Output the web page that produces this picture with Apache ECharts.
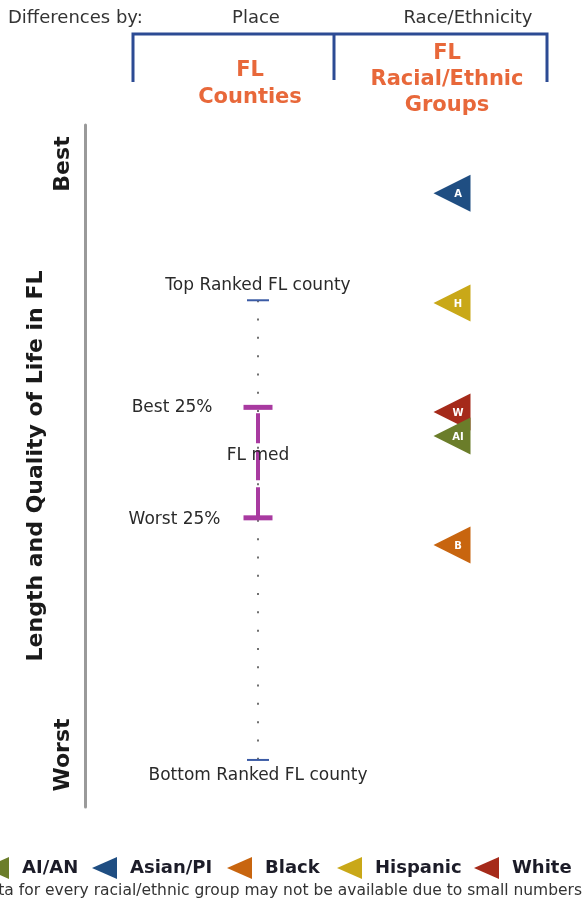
<!DOCTYPE html>
<html>
<head>
<meta charset="utf-8">
<script src="https://cdn.jsdelivr.net/npm/echarts@6/dist/echarts.min.js"></script>
<style>
html,body{margin:0;padding:0;background:#fff;}
#chart{width:584px;height:911px;}
</style>
</head>
<body>
<div id="chart"></div>
<script>
// ---- data (rank position on a 0 = best ... 100 = worst scale) ----
const columns = ['FL Counties', 'FL Racial/Ethnic Groups'];
const countyLabels = ['Top Ranked FL county', 'Best 25%', 'FL med', 'Worst 25%', 'Bottom Ranked FL county'];
const countyValues = [25.7, 41.4, 48.4, 57.6, 93.1];
const groups = ['AI/AN', 'Asian/PI', 'Black', 'Hispanic', 'White'];
const groupLetters = ['AI', 'A', 'B', 'H', 'W'];
const groupValues = [45.6, 10.0, 61.6, 26.1, 42.1];
const groupColors = ['#6b7d2a', '#1f4e82', '#c8650f', '#c9a818', '#a52a1a'];
const axisEnds = ['Best', 'Worst'];
const axisTitle = 'Length and Quality of Life in FL';

const FONT = 'DejaVu Sans';
const PURPLE = '#a83aa0';
const TRI = 'path://M0,18 L36,0 L36,36 Z';
const LEG_TRI = 'path://M0,11 L25,0 L25,22 Z';

const chart = echarts.init(document.getElementById('chart'), null, {renderer: 'canvas'});

const groupSeries = groups.map((g, i) => ({
  name: g,
  type: 'scatter',
  z: g === 'AI/AN' ? 5 : 3,
  symbol: TRI,
  symbolSize: [37, 37],
  itemStyle: {color: groupColors[i], opacity: 1},
  label: {
    show: true,
    position: 'inside',
    offset: [6, 1],
    formatter: groupLetters[i],
    color: '#fff',
    fontFamily: FONT,
    fontWeight: 'bold',
    fontSize: 10
  },
  data: [[columns[1], groupValues[i]]]
}));

const legendLefts = [-16, 92, 227, 337, 474];
const legends = groups.map((g, i) => ({
  data: [{name: g, icon: LEG_TRI}],
  left: legendLefts[i],
  top: 857,
  padding: 0,
  itemWidth: 25,
  itemHeight: 22,
  selectedMode: false,
  textStyle: {fontFamily: FONT, fontWeight: 'bold', fontSize: 18, color: '#1c1c28', padding: [0, 0, 0, 8]}
}));

const txt = {fontFamily: FONT, fontSize: 17, color: '#2a2a2a'};

const option = {
  animation: false,
  backgroundColor: '#fff',
  legend: legends,
  grid: {left: 161, width: 388, top: 125, height: 682},
  xAxis: {
    type: 'category',
    data: columns,
    show: false
  },
  yAxis: {
    type: 'value',
    inverse: true,
    min: 0,
    max: 100,
    offset: 76,
    axisLine: {show: true, lineStyle: {color: '#9a9a9a', width: 3}},
    axisTick: {show: false},
    axisLabel: {show: false},
    splitLine: {show: false},
    name: axisTitle,
    nameLocation: 'middle',
    nameRotate: 90,
    nameGap: 38,
    nameTextStyle: {fontFamily: FONT, fontWeight: 'bold', fontSize: 22, color: '#1a1a1a'}
  },
  graphic: [
    {type: 'polyline', shape: {points: [[133, 82], [133, 34], [547, 34], [547, 82]]},
     style: {stroke: '#2c4b94', lineWidth: 3, fill: null}},
    {type: 'line', shape: {x1: 334, y1: 34, x2: 334, y2: 80}, style: {stroke: '#2c4b94', lineWidth: 3}},
    {type: 'text', x: 8, y: 18, style: {text: 'Differences by:', font: '18px "DejaVu Sans"', fill: '#333', textAlign: 'left', textVerticalAlign: 'middle'}},
    {type: 'text', x: 256, y: 18, style: {text: 'Place', font: '18px "DejaVu Sans"', fill: '#333', textAlign: 'center', textVerticalAlign: 'middle'}},
    {type: 'text', x: 468, y: 18, style: {text: 'Race/Ethnicity', font: '18px "DejaVu Sans"', fill: '#333', textAlign: 'center', textVerticalAlign: 'middle'}},
    {type: 'text', x: 250, y: 84, style: {text: 'FL\nCounties', font: 'bold 21px "DejaVu Sans"', lineHeight: 27, fill: '#e8683a', textAlign: 'center', textVerticalAlign: 'middle'}},
    {type: 'text', x: 447, y: 80, style: {text: 'FL\nRacial/Ethnic\nGroups', font: 'bold 21px "DejaVu Sans"', lineHeight: 26, fill: '#e8683a', textAlign: 'center', textVerticalAlign: 'middle'}},
    {type: 'text', x: 63, y: 164, rotation: Math.PI / 2, style: {text: axisEnds[0], font: 'bold 22px "DejaVu Sans"', fill: '#1a1a1a', textAlign: 'center', textVerticalAlign: 'middle'}},
    {type: 'text', x: 63, y: 755, rotation: Math.PI / 2, style: {text: axisEnds[1], font: 'bold 22px "DejaVu Sans"', fill: '#1a1a1a', textAlign: 'center', textVerticalAlign: 'middle'}},
    {type: 'text', x: 582, y: 891, style: {text: 'Data for every racial/ethnic group may not be available due to small numbers', font: '15.5px "DejaVu Sans"', fill: '#333', textAlign: 'right', textVerticalAlign: 'middle'}}
  ],
  series: [
    {
      name: 'range', type: 'line', symbol: 'none', silent: true, z: 1,
      lineStyle: {color: '#707070', width: 2, type: [2, 16.3]},
      data: [[columns[0], countyValues[0]], [columns[0], countyValues[4]]]
    },
    {
      name: 'iqr', type: 'line', symbol: 'none', silent: true, z: 2,
      lineStyle: {color: PURPLE, width: 4, type: [30, 7], dashOffset: 31},
      data: [[columns[0], countyValues[1]], [columns[0], countyValues[3]]]
    },
    {
      name: 'ends', type: 'scatter', symbol: 'rect', symbolSize: [22, 2], z: 3,
      itemStyle: {color: '#3b5ba5', opacity: 1},
      data: [
        {value: [columns[0], countyValues[0]], label: {show: true, position: 'top', distance: 5, formatter: countyLabels[0], ...txt}},
        {value: [columns[0], countyValues[4]], label: {show: true, position: 'bottom', distance: 6, formatter: countyLabels[4], ...txt}}
      ]
    },
    {
      name: 'quartiles', type: 'scatter', symbol: 'rect', symbolSize: [29, 5], z: 3,
      itemStyle: {color: PURPLE, opacity: 1},
      data: [
        {value: [columns[0], countyValues[1]], label: {show: true, position: 'left', distance: 31, formatter: countyLabels[1], ...txt}},
        {value: [columns[0], countyValues[3]], label: {show: true, position: 'left', distance: 23, offset: [0, 2], formatter: countyLabels[3], ...txt}}
      ]
    },
    {
      name: 'median', type: 'scatter', symbolSize: 1, z: 4,
      itemStyle: {color: 'rgba(0,0,0,0)', opacity: 1},
      label: {show: true, position: 'inside', formatter: countyLabels[2], ...txt},
      data: [[columns[0], countyValues[2]]]
    },
    ...groupSeries
  ]
};
chart.setOption(option);
</script>
</body>
</html>
